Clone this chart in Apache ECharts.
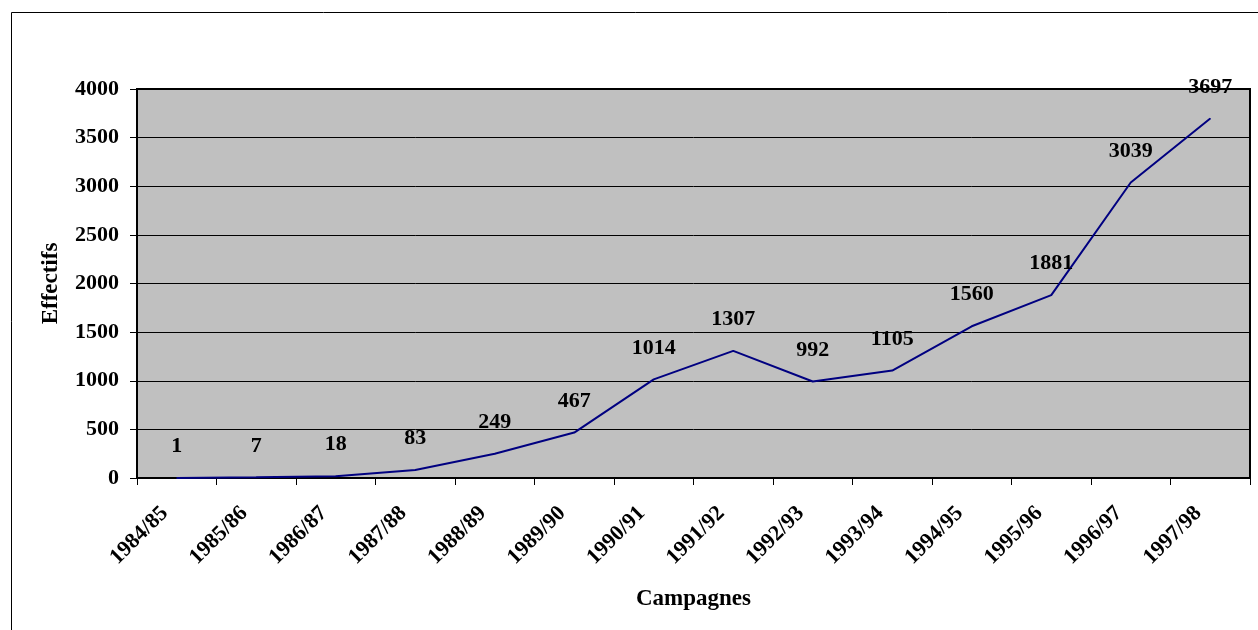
<!DOCTYPE html>
<html>
<head>
<meta charset="utf-8">
<style>
  html, body { margin: 0; padding: 0; background: #ffffff; }
  #chart { width: 1258px; height: 630px; }
</style>
<script src="https://cdn.jsdelivr.net/npm/echarts@6/dist/echarts.min.js"></script>
</head>
<body>
<div id="chart"></div>
<script>
// Campaign seasons and headcount per season
const campagnes = ['1984/85', '1985/86', '1986/87', '1987/88', '1988/89', '1989/90', '1990/91',
                   '1991/92', '1992/93', '1993/94', '1994/95', '1995/96', '1996/97', '1997/98'];
const effectifs = [1, 7, 18, 83, 249, 467, 1014, 1307, 992, 1105, 1560, 1881, 3039, 3697];
const yTicks = [0, 500, 1000, 1500, 2000, 2500, 3000, 3500, 4000];

const FONT = '"Liberation Serif", "Times New Roman", serif';
const chart = echarts.init(document.getElementById('chart'), null, { renderer: 'canvas' });

chart.setOption({
  animation: false,
  backgroundColor: '#ffffff',
  graphic: [{
    type: 'rect',
    shape: { x: 11.5, y: 12.5, width: 1400, height: 800 },
    style: { fill: 'none', stroke: '#000000', lineWidth: 1 },
    silent: true
  }],
  grid: {
    left: 137, top: 89, right: 8, bottom: 152,
    show: true,
    backgroundColor: '#c0c0c0',
    borderColor: '#000000',
    borderWidth: 2
  },
  xAxis: {
    type: 'category',
    data: campagnes,
    boundaryGap: true,
    name: 'Campagnes',
    nameLocation: 'middle',
    nameGap: 110,
    nameTextStyle: { fontFamily: FONT, fontWeight: 'bold', fontSize: 23, color: '#000' },
    axisLine: { lineStyle: { color: '#000', width: 2 } },
    axisTick: { show: true, length: 7, alignWithLabel: false, lineStyle: { color: '#000', width: 1 } },
    axisLabel: {
      rotate: 45,
      margin: 20,
      padding: [0, 17, 0, 0],
      fontFamily: FONT, fontWeight: 'bold', fontSize: 22, color: '#000'
    },
    splitLine: { show: false }
  },
  yAxis: {
    type: 'value',
    min: yTicks[0],
    max: yTicks[yTicks.length - 1],
    interval: yTicks[1] - yTicks[0],
    name: 'Effectifs',
    nameLocation: 'middle',
    nameGap: 74,
    nameRotate: 90,
    nameTextStyle: { fontFamily: FONT, fontWeight: 'bold', fontSize: 23, color: '#000' },
    axisLine: { show: true, lineStyle: { color: '#000', width: 2 } },
    axisTick: { show: true, length: 7, lineStyle: { color: '#000', width: 1 } },
    axisLabel: {
      margin: 18,
      formatter: v => String(v),
      fontFamily: FONT, fontWeight: 'bold', fontSize: 22, color: '#000'
    },
    splitLine: { show: true, lineStyle: { color: '#000', width: 1 } }
  },
  series: [{
    type: 'line',
    data: effectifs,
    showSymbol: true,
    symbol: 'circle',
    symbolSize: 1,
    itemStyle: { color: '#000080' },
    lineStyle: { color: '#000080', width: 2 },
    label: {
      show: true,
      position: 'top',
      distance: 20,
      fontFamily: FONT, fontWeight: 'bold', fontSize: 22, color: '#000'
    },
    labelLayout: { hideOverlap: false },
    z: 3
  }]
});
</script>
</body>
</html>
